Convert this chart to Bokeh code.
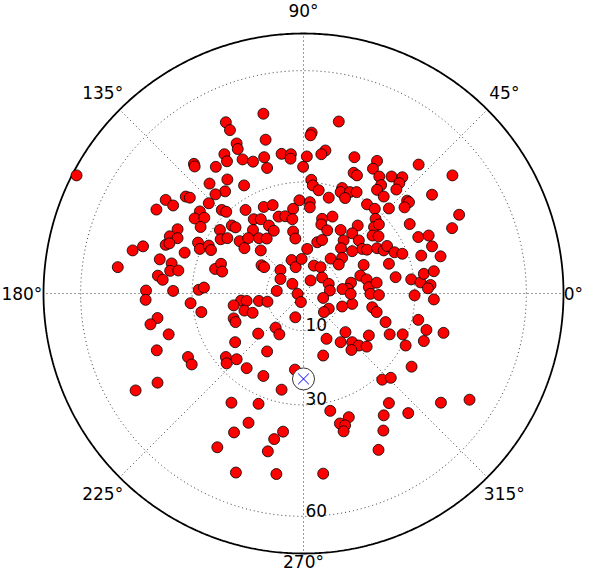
import numpy as np
from bokeh.plotting import figure
from bokeh.models import Range1d
from bokeh.embed import file_html
from bokeh.resources import INLINE
from bokeh.core.properties import value

# Star positions as (east, north) offsets in zenith-distance units (degrees)
stars_nw_east = [-61.1,-10.8,-20.9,-19.8,-10.2,-18.0,-17.7,-5.9,-3.4,-21.3,
                 -10.6,-3.5,-16.4,-20.6,-13.6,-29.5,-29.3,-23.6,-9.8,-20.5,
                 -25.3,-16.0,-21.1,-23.7,-31.7,-30.6,-37.1,-35.1,-39.6,-25.5,
                 -27.9,-29.3,-26.7,-27.7,-1.1,-22.0,-20.8,-15.6,-10.7,-8.3,
                 -2.8,-6.7,-4.9,-3.0,-13.4,-11.5,-9.3,-8.0,-19.3,-18.3,
                 -13.6,-22.5,-33.9,-36.0,-33.9,-37.1,-36.1,-2.8,-2.2,-22.3,
                 -20.5,-17.2,-14.9,-12.0,-9.9,-15.9,-11.5,-28.4,-27.9,-25.5,
                 -24.9,-46.0,-43.2,-32.0,-38.7,-35.5,-35.9,-33.7,-39.2,-37.9,
                 -50.0,-23.8,-22.2,-21.9,-11.3,-10.6,-6.2,-6.2,-3.2,-2.1,
                 -3.0,-7.2,-35.1,-42.4,-28.2,-26.8,-1.6]
stars_nw_north = [31.8,48.4,46.1,44.0,41.4,40.4,38.9,37.6,37.5,37.5,
                  36.7,36.3,36.1,35.6,35.5,34.9,34.2,34.1,33.8,30.7,
                  29.6,29.1,27.5,26.7,26.1,25.8,25.2,23.7,22.6,24.3,
                  22.1,20.2,20.4,17.9,25.1,22.5,22.0,22.5,23.3,23.8,
                  22.8,20.7,20.8,20.0,20.0,20.0,18.3,16.9,18.3,17.8,
                  17.1,17.1,17.3,15.4,14.9,13.1,13.5,16.7,14.8,14.6,
                  14.9,14.1,14.9,14.9,14.8,12.2,11.6,13.7,12.0,12.9,
                  11.7,11.6,12.7,11.0,9.2,8.1,6.1,6.2,4.8,3.7,
                  7.1,6.6,8.0,5.9,7.6,7.1,6.3,3.9,9.0,7.1,
                  2.6,0.7,0.7,0.8,1.0,1.6,-0.1]

stars_ne = [(9.5,46.3),(2.2,43.3),(1.9,42.6),(5.9,38.5),(4.8,37.5),(0.9,36.9),(-0.1,34.1),
            (13.7,36.7),(19.8,35.7),(18.7,33.6),(31.0,34.7),(40.1,31.8),(13.5,32.5),(14.4,31.8),
            (20.4,31.5),(23.7,31.5),(26.6,31.3),(25.8,29.7),(25.0,28.0),(20.9,29.2),(19.8,27.9),
            (21.6,26.1),(2.1,30.6),(2.5,29.1),(4.1,27.8),(6.8,25.8),(10.4,28.4),(10.0,27.3),
            (12.5,27.3),(14.3,27.3),(11.2,25.7),(34.6,26.6),(1.7,24.6),(1.7,23.2),(17.1,24.0),
            (19.2,22.8),(23.0,22.9),(27.9,25.0),(28.4,24.6),(27.2,23.2),(41.9,21.2),(40.0,17.6),
            (28.6,18.7),(19.4,20.1),(19.0,17.9),(20.3,18.6),(14.6,18.3),(7.8,20.7),(5.0,20.1),
            (4.8,18.6),(6.4,17.0),(10.0,17.1),(13.1,16.2),(10.8,14.3),(14.9,14.3),(18.6,15.6),
            (20.2,15.4),(15.8,12.0),(17.1,11.8),(10.1,12.2),(13.1,11.4),(10.4,9.6),(19.8,12.2),
            (21.6,11.6),(22.5,12.8),(24.5,11.1),(26.6,10.7),(30.9,15.2),(33.7,15.6),(34.6,12.7),
            (31.7,10.2),(36.9,10.0),(23.0,8.0),(16.2,7.7),(24.8,4.4),(15.3,4.8),(17.0,3.8),
            (12.8,2.9),(11.9,1.3),(17.6,1.7),(19.7,2.9),(18.0,-0.1),(20.3,-0.4),(29.0,3.8),
            (31.5,3.0),(32.4,5.3),(35.1,6.0),(34.2,2.3),(33.5,1.4),(29.9,-0.5),(35.1,-1.6),
            (13.1,-2.8),(-0.5,9.3),(1.0,12.0),(3.7,13.8),(5.0,14.4),(2.8,7.5),(4.6,7.1),
            (1.9,3.5),(5.0,4.3),(6.8,2.6),(7.1,0.8),(7.3,9.4),(9.5,7.8),(10.5,1.2),(12.7,-0.1)]

stars_se = [(5.3,-1.2),(6.8,-4.1),(5.5,-5.0),(10.4,-3.5),(18.5,-3.7),(19.7,-5.0),(22.1,-7.7),
            (30.9,-7.1),(33.1,-9.8),(37.7,-10.6),(32.4,-12.8),(23.2,-11.0),(26.7,-11.0),(27.5,-14.0),
            (17.6,-11.3),(11.3,-10.4),(6.2,-12.2),(10.0,-13.1),(13.1,-13.1),(14.9,-14.0),(17.0,-14.3),
            (12.9,-15.2),(5.3,-16.7),(29.1,-19.7),(21.2,-23.2),(23.5,-22.7),(7.2,-31.6),(9.8,-35.0),
            (12.2,-33.3),(11.2,-35.5),(10.8,-37.1),(23.0,-29.5),(21.6,-32.8),(28.2,-32.2),(37.0,-29.4),
            (44.7,-28.6),(21.5,-36.9),(20.2,-42.1),(5.3,-48.5),(-0.7,-2.3)]

stars_sw = [(-42.5,-1.7),(-30.4,-2.6),(-27.5,-5.0),(-16.8,-1.9),(-15.3,-2.0),(-12.0,-2.0),(-9.7,-2.2),
            (-18.8,-3.2),(-15.9,-4.6),(-13.7,-5.2),(-18.8,-6.7),(-18.3,-7.7),(-2.2,-6.4),(-7.5,-9.2),
            (-6.5,-11.0),(-12.2,-10.8),(-18.4,-13.1),(-9.8,-15.6),(-20.9,-17.1),(-20.7,-18.8),(-18.0,-17.7),
            (-15.3,-20.1),(-10.8,-22.2),(-5.9,-25.9),(-2.3,-20.5),(-39.3,-6.6),(-41.2,-8.3),(-36.3,-11.0),
            (-39.5,-15.3),(-31.1,-17.1),(-30.1,-19.1),(-39.3,-24.0),(-45.2,-26.1),(-19.4,-29.4),(-12.1,-29.7),
            (-14.8,-34.8),(-18.7,-37.4),(-5.5,-37.2),(-7.9,-39.2),(-23.2,-41.4),(-9.6,-42.5),(-18.2,-48.2),
            (-7.3,-48.6)]

r_ticks = [10, 30, 60]
r_max = 70
theta_ticks = [0, 45, 90, 135, 180, 225, 270, 315]
theta_labels = ["0°", "45°", "90°", "135°", "180°", "225°", "270°", "315°"]
target_az = 270
target_zen = 23

others = stars_ne + stars_se + stars_sw
east = np.array(stars_nw_east + [s[0] for s in others])
north = np.array(stars_nw_north + [s[1] for s in others])

W, H = 584, 571
R_PX = 260.0
k = R_PX / r_max
cx, cy = 303.0, 293.0

p = figure(width=W, height=H,
           x_range=Range1d(-cx / k, (W - cx) / k),
           y_range=Range1d(-(H - cy) / k, cy / k),
           x_axis_type=None, y_axis_type=None,
           output_backend="svg", toolbar_location=None, min_border=0)
p.outline_line_color = None
p.grid.visible = False
p.background_fill_color = "white"
p.border_fill_color = "white"

t = np.linspace(0, 2 * np.pi, 721)
grid_col = "#3a3a3a"
for r in r_ticks:
    p.line(r * np.cos(t), r * np.sin(t), line_color=grid_col, line_dash="1 3", line_width=1)
for th in theta_ticks:
    a = np.deg2rad(th)
    p.line([0, r_max * np.cos(a)], [0, r_max * np.sin(a)],
           line_color=grid_col, line_dash="1 3", line_width=1)
p.line(r_max * np.cos(t), r_max * np.sin(t), line_color="black", line_width=1.8)

p.scatter(east, north, size=11, fill_color="#ff0000", line_color="black", line_width=0.8)

ta = np.deg2rad(target_az)
tx, ty = target_zen * np.cos(ta), target_zen * np.sin(ta)
p.scatter([tx], [ty], marker="circle", size=22, fill_color="white",
          line_color="#333333", line_width=1)
p.scatter([tx], [ty], marker="x", size=15, line_color="blue", line_width=1)

# radial tick labels
p.text(x=[2 / k] * len(r_ticks), y=[-(r - 6 / k) for r in r_ticks],
       text=[str(r) for r in r_ticks], text_font=value("DejaVu Sans"),
       text_font_size="17px", text_align="left", text_baseline="middle", text_color="black")

# angular tick labels
fs = 17
LAB_R = 284.0
lx, ly = [], []
for th, lab in zip(theta_ticks, theta_labels):
    a = np.deg2rad(th)
    x = LAB_R * np.cos(a)
    y = LAB_R * np.sin(a)
    hw = 0.6 * fs * len(lab) / 2
    x = min(max(x, -cx + hw + 1), (W - cx) - hw - 1)
    y = min(max(y, -(H - cy) + 10), cy - 10)
    lx.append(x / k)
    ly.append(y / k)
p.text(x=lx, y=ly, text=theta_labels, text_font=value("DejaVu Sans"),
       text_font_size=f"{fs}px", text_align="center", text_baseline="middle", text_color="black")

open("out.html", "w").write(file_html(p, INLINE))
